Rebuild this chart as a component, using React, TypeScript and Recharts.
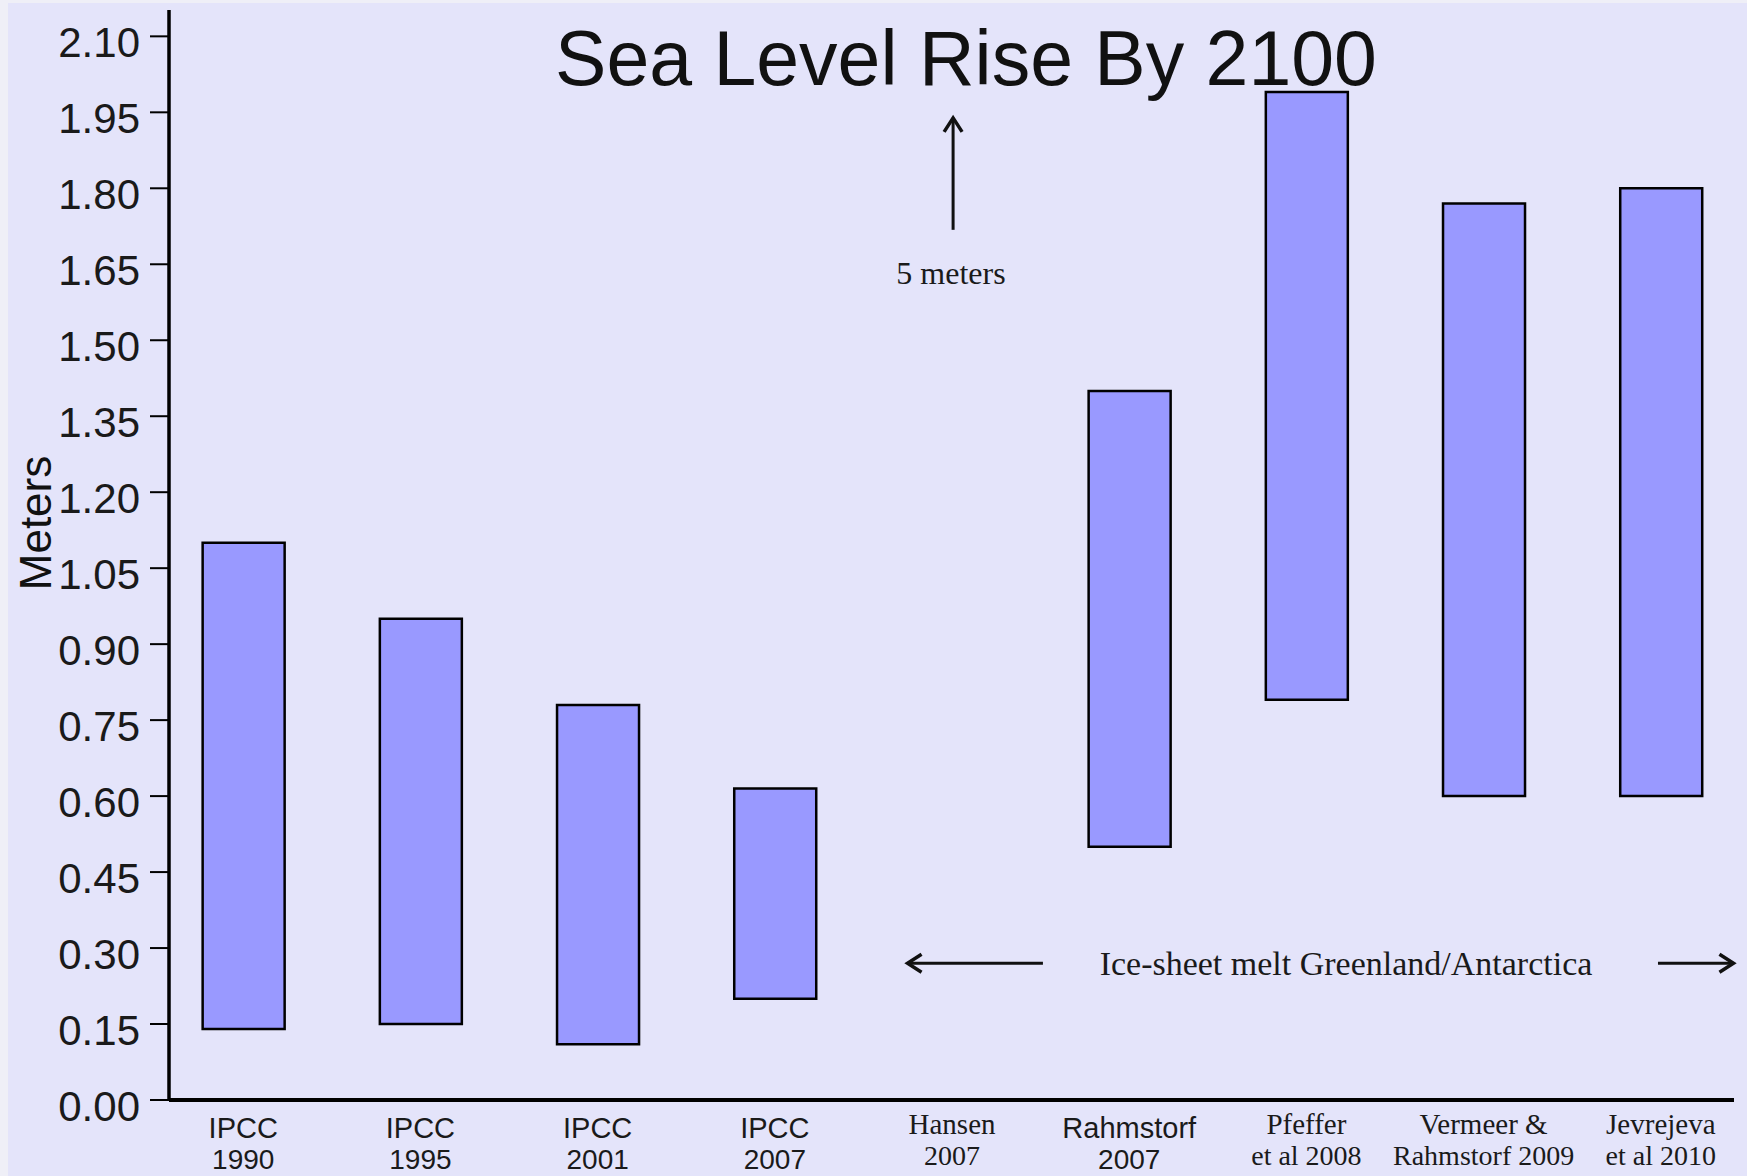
import React from "react";
import { BarChart, Bar, XAxis, YAxis, ReferenceLine } from "recharts";

// category labels (two lines each)
const categoryTop = ["IPCC", "IPCC", "IPCC", "IPCC", "Hansen", "Rahmstorf", "Pfeffer", "Vermeer &", "Jevrejeva"];
const categoryBottom = ["1990", "1995", "2001", "2007", "2007", "2007", "et al 2008", "Rahmstorf 2009", "et al 2010"];

// projected range of sea level rise by 2100 (meters)
const lowValues = [0.14, 0.15, 0.11, 0.2, null, 0.5, 0.79, 0.6, 0.6];
const highValues = [1.1, 0.95, 0.78, 0.615, null, 1.4, 1.99, 1.77, 1.8];

const yTicks = [0, 0.15, 0.3, 0.45, 0.6, 0.75, 0.9, 1.05, 1.2, 1.35, 1.5, 1.65, 1.8, 1.95, 2.1];

const serifCats = [4, 6, 7, 8];

const data = categoryTop.map((c, i) => ({
  idx: i,
  range: lowValues[i] == null ? null : [lowValues[i], highValues[i]],
}));

const SANS = "'Liberation Sans', Arial, Helvetica, sans-serif";
const SERIF = "'Liberation Serif', 'Times New Roman', serif";

const YTick = (props: any) => {
  const { x, y, payload } = props;
  return (
    <text x={x} y={y + 6} textAnchor="end" dominantBaseline="central" fontSize={42} fontFamily={SANS} fill="#1a1a1a">
      {Number(payload.value).toFixed(2)}
    </text>
  );
};

const XTick = (props: any) => {
  const { x, y, payload } = props;
  const i = payload.value;
  const serif = serifCats.includes(i);
  const d = serif ? 0 : 4;
  return (
    <g>
      <text x={x} y={y + 24 + d} textAnchor="middle" dominantBaseline="central" fontSize={29} fontFamily={serif ? SERIF : SANS} fill="#1a1a1a">
        {categoryTop[i]}
      </text>
      <text x={x} y={y + 55 + d} textAnchor="middle" dominantBaseline="central" fontSize={28} fontFamily={serif ? SERIF : SANS} fill="#1a1a1a">
        {categoryBottom[i]}
      </text>
    </g>
  );
};

const Arrow = (props: any) => {
  const { x1, y1, x2, y2 } = props;
  const dx = x2 - x1;
  const dy = y2 - y1;
  const len = Math.sqrt(dx * dx + dy * dy) || 1;
  const ux = dx / len;
  const uy = dy / len;
  const hl = 14;
  const hw = 9;
  const bx = x2 - ux * hl;
  const by = y2 - uy * hl;
  return (
    <g>
      <line x1={x1} y1={y1} x2={x2} y2={y2} stroke="#111" strokeWidth={3} />
      <polyline
        points={`${bx - uy * hw},${by + ux * hw} ${x2},${y2} ${bx + uy * hw},${by - ux * hw}`}
        fill="none"
        stroke="#111"
        strokeWidth={3.5}
        strokeLinejoin="miter"
      />
    </g>
  );
};

export default function App() {
  return (
    <div style={{ position: "absolute", left: 0, top: 0, width: 1747, height: 1176, background: "#efeff7" }}>
      <div style={{ position: "absolute", left: 8, top: 3, width: 1739, height: 1173, background: "#e4e4fa" }} />
      <div style={{ position: "absolute", left: 0, top: 0 }}>
        <BarChart
          width={1747}
          height={1176}
          data={data}
          margin={{ top: 10, right: 13, bottom: 46, left: 0 }}
        >
          <XAxis
            dataKey="idx"
            type="number"
            domain={[-0.419, 8.413]}
            ticks={[0, 1, 2, 3, 4, 5, 6, 7, 8]}
            allowDataOverflow
            height={30}
            tick={<XTick />}
            tickLine={false}
            tickSize={0}
            tickMargin={0}
            axisLine={{ stroke: "#000", strokeWidth: 4 }}
            interval={0}
          />
          <YAxis
            type="number"
            domain={[0, 2.152]}
            ticks={yTicks}
            width={169}
            allowDataOverflow
            tick={<YTick />}
            tickSize={19}
            tickMargin={10}
            tickLine={{ stroke: "#000", strokeWidth: 2 }}
            axisLine={{ stroke: "#000", strokeWidth: 3.5 }}
            interval={0}
          />
          <Bar
            dataKey="range"
            barSize={82}
            fill="#9999ff"
            stroke="#000"
            strokeWidth={2.5}
            isAnimationActive={false}
          />
          <ReferenceLine segment={[{ x: 4.006, y: 1.718 }, { x: 4.006, y: 1.939 }]} shape={<Arrow />} ifOverflow="visible" />
          <ReferenceLine segment={[{ x: 4.513, y: 0.27 }, { x: 3.749, y: 0.27 }]} shape={<Arrow />} ifOverflow="visible" />
          <ReferenceLine segment={[{ x: 7.984, y: 0.27 }, { x: 8.41, y: 0.27 }]} shape={<Arrow />} ifOverflow="visible" />
          <text x={966} y={58} textAnchor="middle" dominantBaseline="central" fontSize={77} fontFamily={SANS} fill="#111">
            Sea Level Rise By 2100
          </text>
          <text x={951} y={273} textAnchor="middle" dominantBaseline="central" fontSize={32} fontFamily={SERIF} fill="#1a1a1a">
            5 meters
          </text>
          <text x={1346} y={963} textAnchor="middle" dominantBaseline="central" fontSize={34} fontFamily={SERIF} fill="#1a1a1a">
            Ice-sheet melt Greenland/Antarctica
          </text>
          <text
            x={35}
            y={523}
            textAnchor="middle"
            dominantBaseline="central"
            fontSize={44}
            fontFamily={SANS}
            fill="#111"
            transform="rotate(-90 35 523)"
          >
            Meters
          </text>
        </BarChart>
      </div>
    </div>
  );
}
